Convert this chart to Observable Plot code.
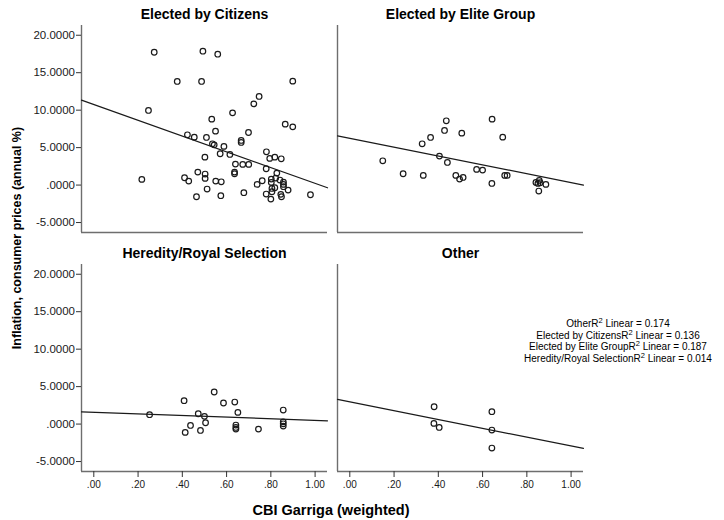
<!DOCTYPE html>
<html><head><meta charset="utf-8">
<script src="https://cdn.jsdelivr.net/npm/d3@7"></script>
<script src="https://cdn.jsdelivr.net/npm/@observablehq/plot@0.6"></script>
<style>
body{margin:0;background:#fff;}
#wrap{position:relative;width:724px;height:520px;overflow:hidden;}
#legend{position:absolute;left:514px;width:208px;top:318px;text-align:center;font:10px "Liberation Sans",Arial,sans-serif;line-height:11.5px;color:#000;}
#legend sup{font-size:7.5px;line-height:0;vertical-align:4px;}
</style></head><body><div id="wrap"></div>
<script>
// Panel (group) names in facet order
const groups = ["Elected by Citizens", "Elected by Elite Group", "Heredity/Royal Selection", "Other"];
const groupCol = [0, 1, 0, 1];
const groupRow = [0, 0, 1, 1];

// Scatter points [CBI Garriga (weighted), inflation %]
const citizensPts = [
  [0.273,17.73],[0.493,17.87],[0.560,17.47],[0.377,13.83],[0.487,13.83],[0.899,13.87],
  [0.247,9.96],[0.747,11.83],[0.723,10.84],[0.627,9.64],[0.533,8.80],[0.865,8.13],
  [0.899,7.77],[0.550,7.20],[0.699,7.02],[0.423,6.71],[0.454,6.40],[0.509,6.36],
  [0.666,5.96],[0.666,5.69],[0.536,5.51],[0.544,5.37],[0.588,5.16],[0.502,3.73],
  [0.571,4.18],[0.615,4.09],[0.780,4.44],[0.795,3.56],[0.818,3.73],[0.847,3.51],
  [0.640,2.80],[0.673,2.76],[0.700,2.76],[0.779,2.18],[0.636,1.73],[0.636,1.51],
  [0.470,1.73],[0.503,1.47],[0.827,1.60],[0.410,0.98],[0.429,0.53],[0.503,0.89],
  [0.217,0.76],[0.551,0.53],[0.576,0.44],[0.802,0.80],[0.802,0.36],[0.822,0.93],
  [0.841,0.67],[0.857,0.40],[0.857,0.09],[0.857,-0.22],[0.738,0.09],[0.761,0.58],
  [0.818,-0.36],[0.878,-0.67],[0.512,-0.53],[0.678,-1.02],[0.779,-1.20],[0.805,-0.89],
  [0.845,-1.24],[0.848,-1.56],[0.574,-1.42],[0.464,-1.56],[0.800,-1.87],[0.979,-1.29],
  [0.805,-0.45]
];
const elitePts = [
  [0.149,3.24],[0.241,1.51],[0.332,1.29],[0.327,5.51],[0.365,6.36],[0.428,7.29],
  [0.436,8.58],[0.405,3.87],[0.441,3.02],[0.479,1.29],[0.496,0.80],[0.512,1.02],
  [0.506,6.93],[0.573,2.09],[0.600,2.00],[0.643,8.80],[0.642,0.22],[0.691,6.40],
  [0.700,1.29],[0.711,1.29],[0.841,0.36],[0.856,0.62],[0.860,0.31],[0.886,0.09],
  [0.854,-0.80],[0.850,0.22]
];
const heredityPts = [
  [0.252,1.25],[0.408,3.12],[0.544,4.28],[0.586,2.81],[0.637,2.94],[0.651,1.56],
  [0.472,1.38],[0.500,1.03],[0.505,0.18],[0.437,-0.18],[0.413,-1.11],[0.482,-0.85],
  [0.642,-0.13],[0.642,-0.45],[0.642,-0.67],[0.744,-0.67],[0.856,1.87],[0.856,0.30],
  [0.856,0.04],[0.856,-0.27]
];
const otherPts = [
  [0.381,2.31],[0.380,0.09],[0.404,-0.45],[0.642,1.65],[0.642,-0.80],[0.642,-3.20]
];
const groupPts = [citizensPts, elitePts, heredityPts, otherPts];

// Linear fit lines (intercept, slope) per group
const fitIntercept = [10.75, 6.24, 1.58, 2.97];
const fitSlope = [-10.52, -5.91, -1.08, -5.89];

// R² legend
const r2Names = ["Other", "Elected by Citizens", "Elected by Elite Group", "Heredity/Royal Selection"];
const r2Values = ["0.174", "0.136", "0.187", "0.014"];

// Axes
const xTicks = [0, 0.2, 0.4, 0.6, 0.8, 1.0];
const yTicks = [-5, 0, 5, 10, 15, 20];
const xDomain = [-0.0556, 1.056];
const yDomain = [-6.33, 21.3];
const xTitle = "CBI Garriga (weighted)";
const yTitle = "Inflation, consumer prices (annual %)";

// ---- build tables ----
const points = groups.flatMap((g, i) => groupPts[i].map(([x, y]) => ({group: g, col: groupCol[i], row: groupRow[i], x, y})));
const fits = groups.flatMap((g, i) => xDomain.map(x => ({group: g, col: groupCol[i], row: groupRow[i], x, y: fitIntercept[i] + fitSlope[i] * x})));
const titles = groups.map((g, i) => ({group: g, col: groupCol[i], row: groupRow[i]}));

const font = '"Liberation Sans", Arial, sans-serif';
const ink = "#1a1a1a";

const chart = Plot.plot({
  width: 724,
  height: 520,
  marginLeft: 81,
  marginRight: 140.5,
  marginTop: 25,
  marginBottom: 48.3,
  style: {fontFamily: font, color: ink, background: "#fff", overflow: "visible"},
  x: {domain: xDomain},
  y: {domain: yDomain},
  fx: {domain: [0, 1], paddingInner: 0.041, paddingOuter: 0, axis: null},
  fy: {domain: [0, 1], paddingInner: 0.135, paddingOuter: 0, axis: null},
  marks: [
    Plot.ruleX([xDomain[0]], {stroke: "#6e6e6e", strokeWidth: 1.4}),
    Plot.ruleY([yDomain[0]], {stroke: "#6e6e6e", strokeWidth: 1.4}),
    Plot.axisY({ticks: yTicks, tickSize: 5, tickPadding: 1.5, fontSize: 11.5, label: null, stroke: "#333",
      tickFormat: d => d === 0 ? ".0000" : d.toFixed(4)}),
    Plot.axisX({ticks: xTicks, tickSize: 6, tickPadding: 3.5, fontSize: 10, label: null, stroke: "#333",
      tickFormat: d => d.toFixed(2).replace(/^0/, "")}),
    Plot.line(fits, {x: "x", y: "y", z: "group", fx: "col", fy: "row", stroke: ink, strokeWidth: 1.2}),
    Plot.dot(points, {x: "x", y: "y", fx: "col", fy: "row", r: 2.8, stroke: ink, strokeWidth: 1.2, fill: "none"}),
    Plot.text(titles, {fx: "col", fy: "row", text: "group", frameAnchor: "top", lineAnchor: "middle", dy: -11,
      fontWeight: "bold", fontSize: 14, fill: "#000"})
  ]
});

const wrap = document.getElementById("wrap");
wrap.appendChild(chart);

// axis titles
const svg = d3.select(chart);
svg.append("text")
  .attr("x", 331).attr("y", 515)
  .attr("text-anchor", "middle")
  .attr("font-weight", "bold").attr("font-size", 14.5).attr("font-family", font).attr("fill", "#000")
  .text(xTitle);
svg.append("text")
  .attr("transform", "translate(21,238) rotate(-90)")
  .attr("text-anchor", "middle")
  .attr("font-weight", "bold").attr("font-size", 12.5).attr("font-family", font).attr("fill", "#000")
  .text(yTitle);

// R² legend
const leg = document.createElement("div");
leg.id = "legend";
leg.innerHTML = r2Names.map((n, i) => `${n}R<sup>2</sup> Linear = ${r2Values[i]}`).join("<br>");
wrap.appendChild(leg);
</script>
</body></html>
